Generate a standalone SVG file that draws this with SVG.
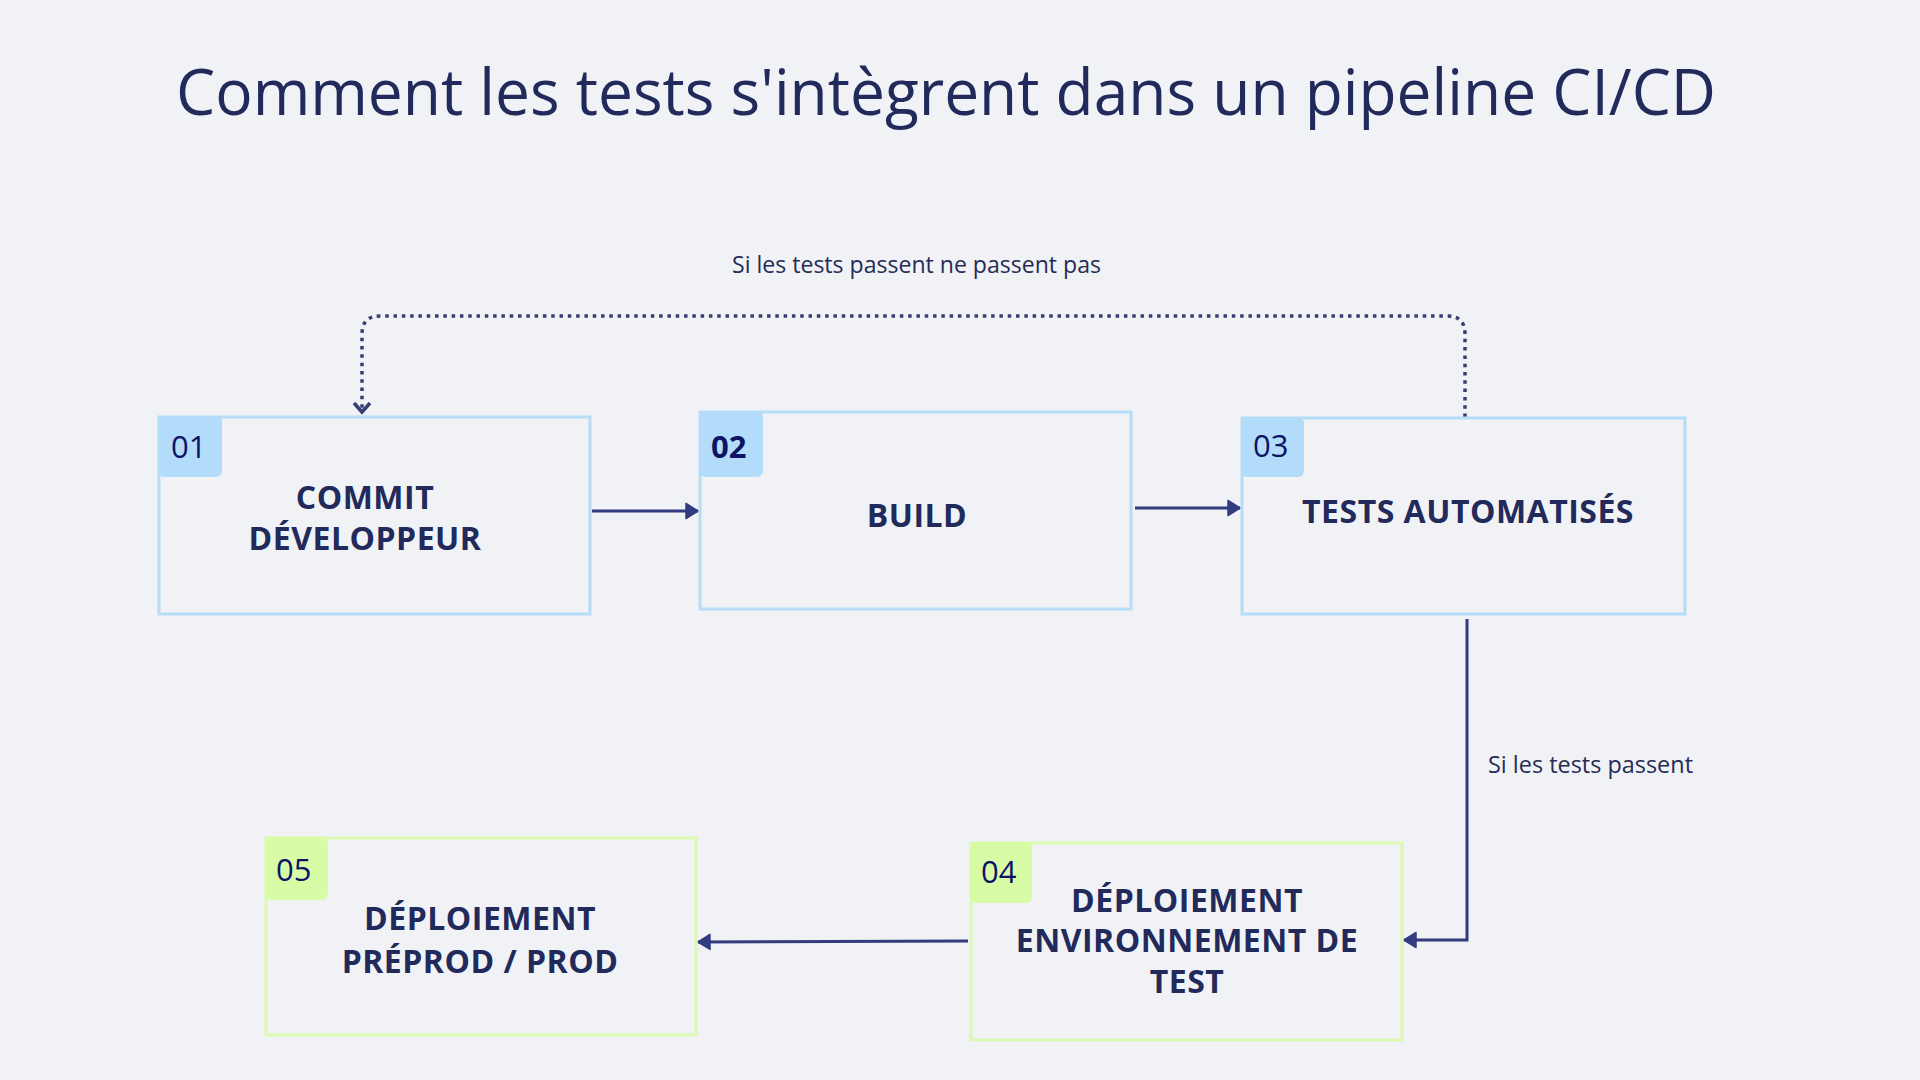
<svg xmlns="http://www.w3.org/2000/svg" width="1920" height="1080" viewBox="0 0 1920 1080">
<style>
.title{font-family:"Open Sans","Noto Sans",sans-serif;font-size:64px;fill:#222a5c}
.lbl{font-family:"Open Sans","Noto Sans",sans-serif;font-size:23px;fill:#262c55}
.nt{font-family:"Open Sans","Noto Sans",sans-serif;font-size:32px;font-weight:700;fill:#212a5a;text-anchor:middle;letter-spacing:0.5px}
.num{font-family:"Open Sans","Noto Sans",sans-serif;font-size:31px;fill:#0d1466}
.blue{fill:none;stroke:#b6dcf6;stroke-width:3}
.green{fill:none;stroke:#dbf9b0;stroke-width:3}
.bb{fill:#b3dcfb}
.gb{fill:#d8fca6}
.conn{fill:none;stroke:#323c7e;stroke-width:3}
.dot{fill:none;stroke:#363f70;stroke-width:3.5;stroke-dasharray:3.5 4.8}
</style>
<defs>
<marker id="ah" markerUnits="userSpaceOnUse" markerWidth="18" markerHeight="20" refX="13" refY="9" orient="auto">
<path d="M1,1.5 L13,9 L1,16.5 z" fill="#323c7e" stroke="#323c7e" stroke-width="1.5" stroke-linejoin="round"/>
</marker>
</defs>
<rect width="1920" height="1080" fill="#f0f2f6"/>
<text class="title" x="176" y="115" textLength="1540" lengthAdjust="spacingAndGlyphs">Comment les tests s'intègrent dans un pipeline CI/CD</text>

<g id="connectors">
<path class="conn" d="M592 511 H698" marker-end="url(#ah)"/>
<path class="conn" d="M1135 508 H1240" marker-end="url(#ah)"/>
<path class="conn" d="M1467 619 V940 H1404" marker-end="url(#ah)"/>
<path class="conn" d="M968 941 L698 942" marker-end="url(#ah)"/>
<path class="dot" d="M1465 417 V334 Q1465 316 1447 316 H380 Q362 316 362 334 V412"/>
<path d="M354 403 L362 412 L370 403" fill="none" stroke="#363f70" stroke-width="3.5"/>
<text class="lbl" x="732" y="273" textLength="369" lengthAdjust="spacingAndGlyphs">Si les tests passent ne passent pas</text>
<text class="lbl" x="1488" y="773" textLength="205" lengthAdjust="spacingAndGlyphs">Si les tests passent</text>
</g>

<g id="n01">
<rect class="blue" x="159" y="417" width="431" height="197"/>
<rect class="bb" x="158" y="416" width="64" height="61" rx="6"/>
<text class="num" x="171" y="458">01</text>
<text class="nt" x="365" y="509">COMMIT</text>
<text class="nt" x="365" y="550">DÉVELOPPEUR</text>
</g>

<g id="n02">
<rect class="blue" x="700" y="412" width="431" height="197"/>
<rect class="bb" x="699" y="411" width="64" height="66" rx="6"/>
<text class="num" x="711" y="458" font-weight="700">02</text>
<text class="nt" x="917" y="527">BUILD</text>
</g>

<g id="n03">
<rect class="blue" x="1242" y="418" width="443" height="196"/>
<rect class="bb" x="1241" y="417" width="63" height="60" rx="6"/>
<text class="num" x="1253" y="457">03</text>
<text class="nt" x="1468" y="523">TESTS AUTOMATISÉS</text>
</g>

<g id="n04">
<rect class="green" x="971" y="843" width="431" height="197"/>
<rect class="gb" x="970" y="842" width="62" height="61" rx="6"/>
<text class="num" x="981" y="883">04</text>
<text class="nt" x="1187" y="912">DÉPLOIEMENT</text>
<text class="nt" x="1187" y="952">ENVIRONNEMENT DE</text>
<text class="nt" x="1187" y="993">TEST</text>
</g>

<g id="n05">
<rect class="green" x="266" y="838" width="430" height="197"/>
<rect class="gb" x="265" y="837" width="63" height="63" rx="6"/>
<text class="num" x="276" y="881">05</text>
<text class="nt" x="480" y="930">DÉPLOIEMENT</text>
<text class="nt" x="480" y="973">PRÉPROD / PROD</text>
</g>
</svg>
